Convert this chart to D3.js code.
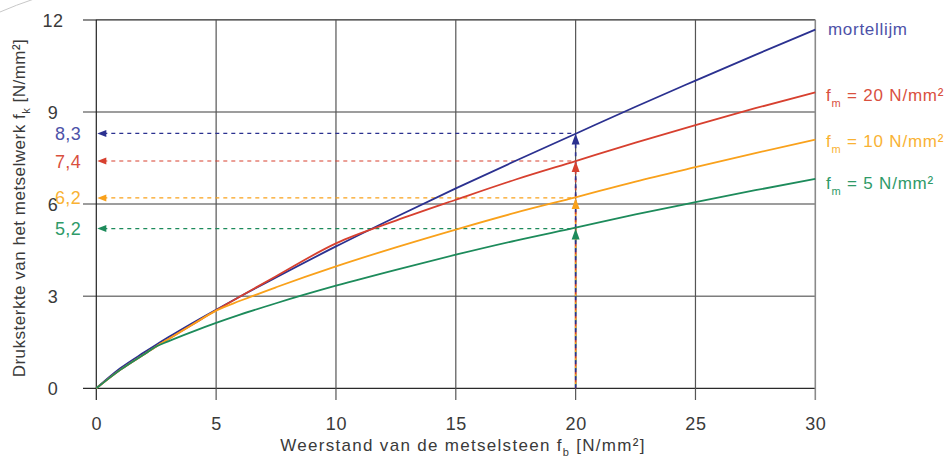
<!DOCTYPE html>
<html>
<head>
<meta charset="utf-8">
<script src="https://cdn.jsdelivr.net/npm/d3@7"></script>
<style>
  html, body { margin: 0; padding: 0; background: #fff; }
  svg { display: block; font-family: "Liberation Sans", Arial, sans-serif; font-weight: normal; }
</style>
</head>
<body>
<svg id="chart" width="950" height="457"></svg>
<script>
// ---- data ----
const fb = [0, 1, 2, 2.5, 3, 4, 5, 6, 7.5, 10, 12.5, 15, 17.5, 20, 22.5, 25, 27.5, 30];
const mortellijm = [0, 0.65, 1.17, 1.42, 1.66, 2.12, 2.56, 2.99, 3.61, 4.62, 5.58, 6.51, 7.41, 8.29, 9.17, 10.02, 10.86, 11.68];
const fm20 = [0, 0.60, 1.11, 1.36, 1.60, 2.07, 2.54, 2.99, 3.65, 4.72, 5.46, 6.14, 6.80, 7.40, 8.00, 8.57, 9.12, 9.64];
const fm10 = [0, 0.60, 1.11, 1.36, 1.60, 2.07, 2.53, 2.85, 3.29, 3.97, 4.59, 5.17, 5.72, 6.22, 6.73, 7.20, 7.66, 8.10];
const fm5  = [0, 0.60, 1.11, 1.36, 1.53, 1.84, 2.13, 2.40, 2.77, 3.34, 3.86, 4.35, 4.81, 5.23, 5.66, 6.06, 6.45, 6.82];
const readFb = 20;
const readValues = [8.3, 7.4, 6.2, 5.2];
const readLabels = ["8,3", "7,4", "6,2", "5,2"];
const xTicks = [0, 5, 10, 15, 20, 25, 30];
const yTicks = [0, 3, 6, 9, 12];
const seriesNames = ["mortellijm", "20", "10", "5"];
const lineColors = ["#2b3190", "#d7402f", "#f9a11b", "#1d8b5b"];
const labelColors = ["#4d52a8", "#d9503e", "#f9b233", "#2f9a68"];

const svg = d3.select("#chart");
const x = d3.scaleLinear().domain([0, 30]).range([96.3, 815.3]);
const y = d3.scaleLinear().domain([0, 12]).range([388.3, 19.8]);

// decorative corner arc
svg.append("path").attr("d", "M0,12 Q16,5 34,-1").attr("fill", "none").attr("stroke", "#c8c8c8").attr("stroke-width", 1);

// horizontal grid lines
const g = svg.append("g");
yTicks.forEach(t => {
  const edge = (t === 0 || t === 12);
  g.append("line")
    .attr("x1", 83).attr("x2", x(30))
    .attr("y1", y(t)).attr("y2", y(t))
    .attr("stroke", edge ? "#2a2a2a" : "#7d7d7d")
    .attr("stroke-width", edge ? 1.3 : 1.6);
});
g.append("line").attr("x1", 83).attr("x2", x(0)).attr("y1", y(12)).attr("y2", y(12))
  .attr("stroke", "#8a8a8a").attr("stroke-width", 1.6);
// vertical grid lines
xTicks.forEach(t => {
  g.append("line")
    .attr("x1", x(t)).attr("x2", x(t))
    .attr("y1", y(12)).attr("y2", 400)
    .attr("stroke", t === 30 ? "#8a8a8a" : (t === 0 ? "#222" : "#555"))
    .attr("stroke-width", t === 30 ? 1.6 : 1.2);
});

// axes (labels only)
const xAxis = d3.axisBottom(x).tickValues(xTicks).tickSize(0).tickPadding(0).tickFormat(d3.format("d"));
const xa = svg.append("g").attr("transform", "translate(0,417)").call(xAxis);
xa.select(".domain").remove();
xa.selectAll("text").attr("font-size", 18).attr("fill", "#3a3a3a").attr("font-family", null)
  .attr("letter-spacing", 0.6).attr("dy", "0.72em");

const yAxis = d3.axisLeft(y).tickValues(yTicks).tickSize(0).tickPadding(0);
const ya = svg.append("g").attr("transform", "translate(53,0)").call(yAxis);
ya.select(".domain").remove();
ya.selectAll("text").attr("font-size", 18).attr("fill", "#3a3a3a").attr("font-family", null)
  .attr("letter-spacing", 0.6).attr("text-anchor", "middle").attr("dy", "0.36em").attr("x", 0);

// axis titles
const xt = svg.append("text").attr("x", 463).attr("y", 451).attr("text-anchor", "middle")
  .attr("font-size", 17).attr("letter-spacing", 1.3).attr("fill", "#3a3a3a");
xt.append("tspan").text("Weerstand van de metselsteen f");
xt.append("tspan").attr("font-size", 11).attr("dy", 5).text("b");
xt.append("tspan").attr("dy", -5).text(" [N/mm²]");

const yt = svg.append("text").attr("transform", "translate(25,208) rotate(-90)").attr("text-anchor", "middle")
  .attr("font-size", 17).attr("letter-spacing", 0.5).attr("fill", "#3a3a3a");
yt.append("tspan").text("Druksterkte van het metselwerk f");
yt.append("tspan").attr("font-size", 11).attr("dy", 5).text("k");
yt.append("tspan").attr("dy", -5).text(" [N/mm²]");

// reading lines (dashed)
const order = [3, 2, 1, 0];
order.forEach(i => {
  const v = readValues[i];
  svg.append("line")
    .attr("x1", x(readFb)).attr("x2", x(readFb))
    .attr("y1", y(0)).attr("y2", y(v) + 8)
    .attr("stroke", lineColors[i]).attr("stroke-width", 1.6)
    .attr("stroke-dasharray", "4,4").attr("stroke-dashoffset", i * 2);
});
readValues.forEach((v, i) => {
  svg.append("line")
    .attr("x1", x(0) + 7).attr("x2", x(readFb))
    .attr("y1", y(v)).attr("y2", y(v))
    .attr("stroke", lineColors[i]).attr("stroke-width", 1.1)
    .attr("stroke-dasharray", "4,4");
  // left arrowhead
  const ax = x(0) + 1, ay = y(v);
  svg.append("path").attr("d", `M${ax},${ay} L${ax + 9},${ay - 3.5} L${ax + 9},${ay + 3.5} Z`).attr("fill", lineColors[i]);
  // up arrowhead at curve
  const ux = x(readFb), uy = y(v);
  svg.append("path").attr("d", `M${ux},${uy} L${ux - 4},${uy + 11} L${ux + 4},${uy + 11} Z`).attr("fill", lineColors[i]);
  // value label
  svg.append("text").attr("x", 81).attr("y", y(v)).attr("dy", "0.36em").attr("text-anchor", "end")
    .attr("font-size", 18).attr("letter-spacing", 0.3).attr("fill", labelColors[i]).text(readLabels[i]);
});

// curves
const allSeries = [mortellijm, fm20, fm10, fm5];
const line = d3.line().x((d, i) => x(fb[i])).y(d => y(d)).curve(d3.curveMonotoneX);
allSeries.forEach((s, i) => {
  svg.append("path").datum(s).attr("d", line).attr("fill", "none")
    .attr("stroke", lineColors[i]).attr("stroke-width", 1.8);
});

// legend labels at right
const legendY = [35, 101, 147, 189];
svg.append("text").attr("x", 828).attr("y", legendY[0]).attr("font-size", 17).attr("letter-spacing", 0.7)
  .attr("fill", labelColors[0]).text(seriesNames[0]);
[1, 2, 3].forEach(i => {
  const t = svg.append("text").attr("x", 826).attr("y", legendY[i]).attr("font-size", 17)
    .attr("letter-spacing", 0.8).attr("fill", labelColors[i]);
  t.append("tspan").text("f");
  t.append("tspan").attr("font-size", 11).attr("dy", 6).text("m");
  t.append("tspan").attr("dy", -6).text(" = " + seriesNames[i] + " N/mm²");
});
</script>
</body>
</html>
